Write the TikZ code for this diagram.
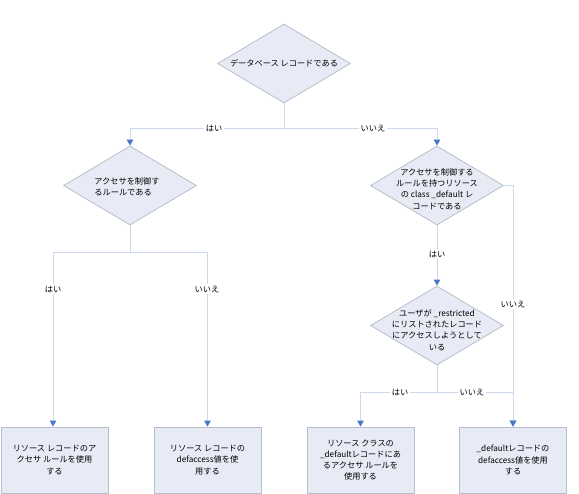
\documentclass[tikz,border=0pt]{standalone}
\usepackage{fontspec}
\setmainfont{Noto Sans CJK JP}
\usetikzlibrary{shapes.geometric,arrows.meta}
\definecolor{fillc}{HTML}{E6EBF5}
\definecolor{edgec}{HTML}{B8BFCA}
\definecolor{linec}{HTML}{CCD8EC}
\definecolor{tipc}{HTML}{4A76C6}
\tikzset{
  dia/.style={shape=diamond, draw=edgec, fill=fillc, line width=0.8pt, inner sep=0pt, minimum width=133pt, minimum height=79pt},
  dtext/.style={font=\fontsize{8.2}{11.2}\selectfont, inner sep=0pt},
  boxn/.style={draw=edgec, fill=fillc, line width=0.8pt, minimum width=107pt, minimum height=66pt, inner sep=0pt, align=center, font=\fontsize{8.2}{11.2}\selectfont},
  conn/.style={draw=linec, line width=0.9pt},
  arr/.style={conn, -{Triangle[length=6pt,width=6.5pt,color=tipc,fill=tipc]}},
  lab/.style={fill=white, inner sep=1.5pt, font=\fontsize{8.2}{10}\selectfont}
}
\begin{document}
\begin{tikzpicture}[x=1pt,y=-1pt]
\useasboundingbox (0,0) rectangle (579,494);
% diamonds
\node[dia] (d1) at (284,63.5) {};
\node[dtext] (t1) at (d1) {データベース レコードである};
\node[dia] (d2) at (130,185.5) {};
\node[dtext, align=left] (t2) at (127,187) {アクセサを制御す\\るルールである};
\node[dia] (d3) at (437,185.5) {};
\node[dtext, align=center] (t3) at (437,189) {アクセサを制御する\\ルールを持つリソース\\の class \_default レ\\コードである};
\node[dia] (d4) at (437,325.5) {};
\node[dtext, align=center] (t4) at (437,330) {ユーザが \_restricted\\にリストされたレコード\\にアクセスしようとして\\いる};
% boxes
\node[boxn] (b1) at (54.5,460) {リソース レコードのア\\クセサ ルールを使用\\する};
\node[boxn] (b2) at (207.5,460) {リソース レコードの\\defaccess値を使\\用する};
\node[boxn] (b3) at (360.5,460) {リソース クラスの\\\_defaultレコードにあ\\るアクセサ ルールを\\使用する};
\node[boxn] (b4) at (513,460) {\_defaultレコードの\\defaccess値を使用\\する};
% junctions
\coordinate (j1) at (284,128);
\coordinate (j2) at (130,252);
\coordinate (j3) at (437,392);
\coordinate (j4) at (513,185.5);
% connectors
\draw[conn] (d1.south) -- (j1);
\draw[arr] (j1) -| (d2.north);
\draw[arr] (j1) -| (d3.north);
\draw[conn] (d2.south) -- (j2);
\draw[arr] (j2) -| ([xshift=-1.5pt]b1.north);
\draw[arr] (j2) -| (b2.north);
\draw[arr] (d3.south) -- (d4.north);
\draw[conn] (d3.east) -- (j4);
\draw[arr] (j4) -- (b4.north);
\draw[conn] (d4.south) -- (j3);
\draw[arr] (j3) -| (b3.north);
\draw[arr] (j3) -| (b4.north);
% labels
\node[lab] (l1) at (214,128) {はい};
\node[lab] (l2) at (373,128) {いいえ};
\node[lab] (l3) at (53,289) {はい};
\node[lab] (l4) at (207,289) {いいえ};
\node[lab] (l5) at (437,254) {はい};
\node[lab] (l6) at (513,304) {いいえ};
\node[lab] (l7) at (400,392) {はい};
\node[lab] (l8) at (472,392) {いいえ};
\end{tikzpicture}
\end{document}
